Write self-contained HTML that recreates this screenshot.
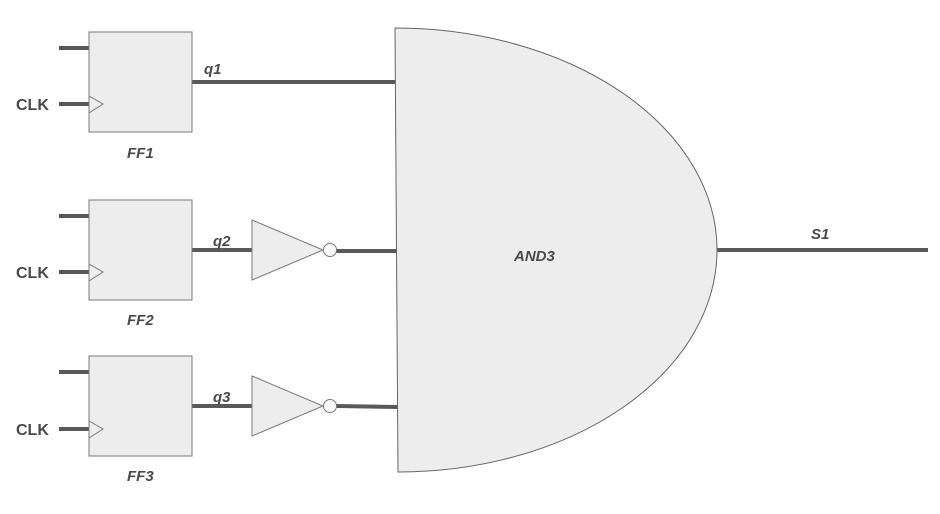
<!DOCTYPE html>
<html><head><meta charset="utf-8"><style>
html,body{margin:0;padding:0;background:#fff;}
text{font-family:"Liberation Sans",Arial,sans-serif;font-weight:bold;font-style:italic;fill:#4a4a4a;font-size:15px;}
.n{font-style:normal;font-size:16px;}
</style></head><body>
<svg width="940" height="509" viewBox="0 0 940 509" xmlns="http://www.w3.org/2000/svg">
<g stroke="#595959" stroke-width="4" fill="none">
<line x1="59" y1="48" x2="89" y2="48"/><line x1="59" y1="104" x2="89" y2="104"/>
<line x1="59" y1="216" x2="89" y2="216"/><line x1="59" y1="272" x2="89" y2="272"/>
<line x1="59" y1="372" x2="89" y2="372"/><line x1="59" y1="429" x2="89" y2="429"/>
<line x1="192" y1="82" x2="397" y2="82"/>
<line x1="192" y1="250" x2="252" y2="250"/><line x1="336" y1="251" x2="398" y2="251"/>
<line x1="192" y1="406" x2="252" y2="406"/><line x1="336" y1="406" x2="398" y2="407"/>
<line x1="717" y1="250" x2="928" y2="250"/>
</g>
<g fill="#ededed" stroke="#7a7a7a" stroke-width="1">
<rect x="89" y="32" width="103" height="100"/>
<rect x="89" y="200" width="103" height="100"/>
<rect x="89" y="356" width="103" height="100"/>
<polyline points="89,96 103,104 89,113" fill="none"/>
<polyline points="89,264 103,272 89,281" fill="none"/>
<polyline points="89,421 103,429 89,438" fill="none"/>
<polygon points="252,220 323,250 252,280"/>
<polygon points="252,376 323,406 252,436"/>
<circle cx="330" cy="250" r="6.5" fill="#fff"/>
<circle cx="330" cy="406" r="6.5" fill="#fff"/>
<path d="M395,28 A322 222 0 0 1 717,250 A319 222 0 0 1 398,472 Z" stroke="#666"/>
</g>
<text class="n" x="16" y="110">CLK</text>
<text class="n" x="16" y="278">CLK</text>
<text class="n" x="16" y="435">CLK</text>
<text x="127" y="158">FF1</text>
<text x="127" y="325">FF2</text>
<text x="127" y="481">FF3</text>
<text x="204" y="74">q1</text>
<text x="213" y="246">q2</text>
<text x="213" y="402">q3</text>
<text x="514" y="261">AND3</text>
<text x="811" y="239">S1</text>
</svg>
</body></html>
